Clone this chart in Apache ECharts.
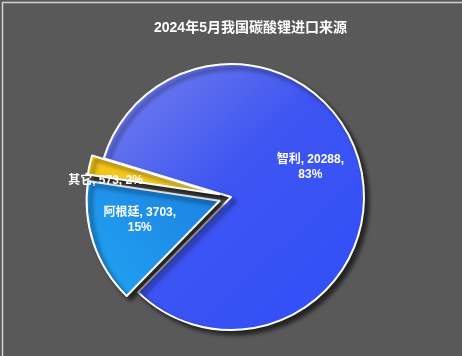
<!DOCTYPE html>
<html><head><meta charset="utf-8">
<script src="https://cdn.jsdelivr.net/npm/echarts@6/dist/echarts.min.js"></script>
<style>html,body{margin:0;padding:0;background:#595959}#c{width:462px;height:356px}</style>
</head><body><div id="c"></div>
<script>
const titleText = '2024年5月我国碳酸锂进口来源';
const categories = ['智利', '阿根廷', '其它'];
const values = [20288, 3703, 573];
const percents = ['83%', '15%', '2%'];

const colors = [
  new echarts.graphic.LinearGradient(0, 0, 1, 1, [{offset: 0, color: '#7a84ea'}, {offset: 0.45, color: '#3e55f2'}, {offset: 1, color: '#2f4ef8'}]),
  new echarts.graphic.LinearGradient(1, 0, 0, 1, [{offset: 0, color: '#1c7fe2'}, {offset: 1, color: '#22a4f2'}]),
  new echarts.graphic.LinearGradient(1, 0, 0, 0, [{offset: 0, color: '#fff6cc'}, {offset: 0.35, color: '#f8cf2a'}, {offset: 1, color: '#f4c214'}])
];
const labelShift = [[12, -13], [-14, -3], [-46, 2]];
const font = '"Liberation Sans", "Noto Sans CJK SC", sans-serif';

const chart = echarts.init(document.getElementById('c'));
chart.setOption({
  backgroundColor: '#595959',
  animation: false,
  title: {
    text: titleText, left: 149, top: 16,
    textStyle: {color: '#ffffff', fontSize: 14, fontWeight: 'bold', fontFamily: font}
  },
  graphic: [{
    type: 'rect', left: 0, top: 0, silent: true,
    shape: {x: 0.75, y: 0.75, width: 460.5, height: 354.5},
    style: {fill: 'none', stroke: '#d4d4d4', lineWidth: 1.5}
  }],
  series: [{
    type: 'pie',
    center: [231, 197],
    radius: [0, 133],
    startAngle: 163,
    clockwise: true,
    selectedMode: 'multiple',
    selectedOffset: 12,
    label: {
      show: true, position: 'inside', color: '#ffffff', fontSize: 12, fontWeight: 'bold',
      fontFamily: font, lineHeight: 15, align: 'center',
      formatter: function (p) {
        if (p.dataIndex === 2) return p.name + ', ' + p.value + ', ' + percents[p.dataIndex];
        return p.name + ', ' + p.value + ',\n' + percents[p.dataIndex];
      }
    },
    labelLayout: function (p) {
      return {dx: labelShift[p.dataIndex][0], dy: labelShift[p.dataIndex][1]};
    },
    itemStyle: {
      borderColor: '#ffffff', borderWidth: 2,
      shadowBlur: 4, shadowColor: 'rgba(0,0,0,0.6)', shadowOffsetX: 4, shadowOffsetY: 4
    },
    emphasis: {disabled: true},
    data: categories.map(function (c, i) {
      return {name: c, value: values[i], selected: i > 0, itemStyle: {color: colors[i]}};
    })
  }]
});
</script></body></html>
